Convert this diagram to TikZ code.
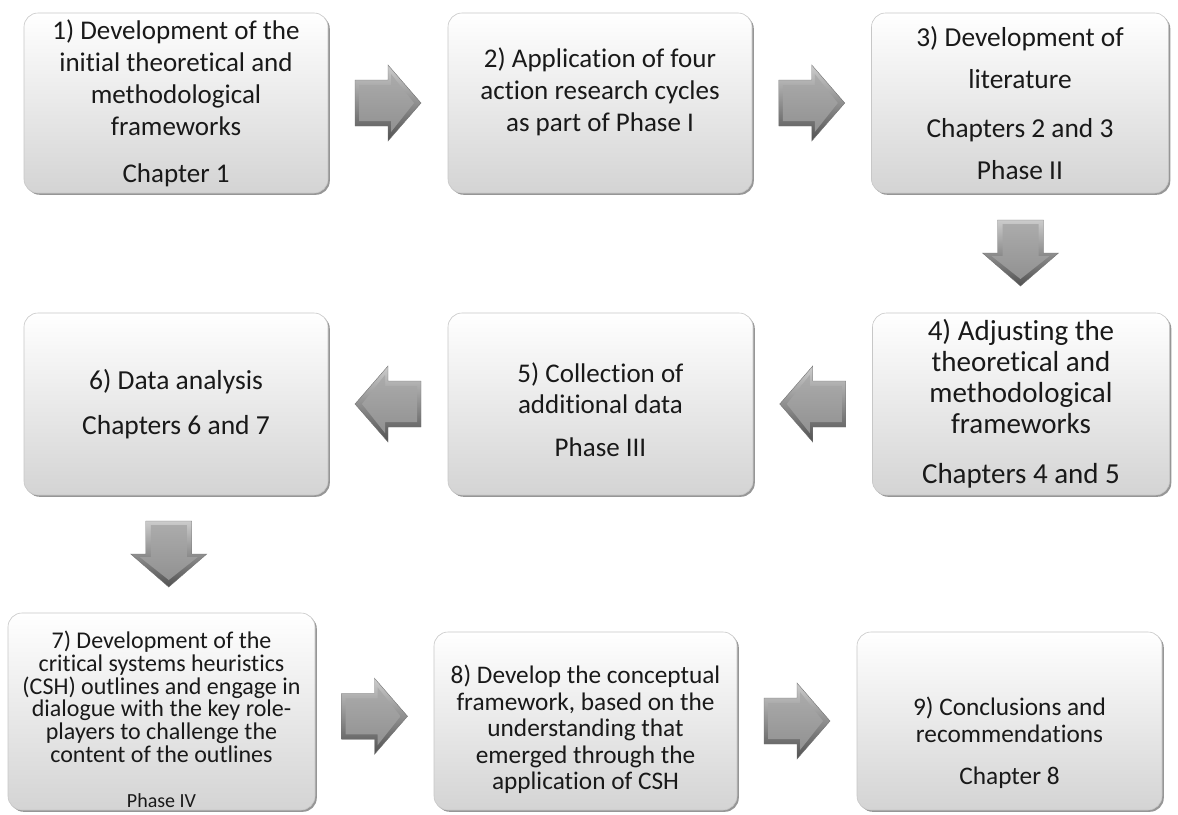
\documentclass[tikz,border=0pt]{standalone}
\usepackage{fontspec}
\setmainfont{Carlito}[Ligatures=NoCommon, RawFeature={-liga;-clig;-calt}]
\usetikzlibrary{calc,shadows}

\tikzset{
  x=1pt, y=-1pt,
  stage/.style={
    draw=black!22, line width=0.6pt, rounded corners=14pt,
    top color=white, middle color=white!96!black, bottom color=black!17,
    drop shadow={shadow xshift=1.8pt, shadow yshift=-1.8pt, fill=black!55, opacity=0.75},
    align=center, inner sep=2pt, text=black!90
  },
  fs/.style 2 args={font=\fontsize{#1}{#2}\selectfont},
  blockarrow/.pic={
    % outer bevelled rim
    \path[top color=black!20, bottom color=black!68, draw=black!55, line width=0.4pt]
      (-33,-23) -- (0,-23) -- (0,-38) -- (33,0) -- (0,38) -- (0,23) -- (-33,23) -- cycle;
    % flat face of the arrow
    \path[top color=black!33, bottom color=black!43]
      (-29,-18) -- (3,-18) -- (3,-29) -- (26,0) -- (3,29) -- (3,18) -- (-29,18) -- cycle;
  },
  toright/.style={},
  toleft/.style={rotate=180},
  todown/.style={rotate=-90, yscale=-1}
}

\begin{document}
\begin{tikzpicture}
\useasboundingbox (0,0) rectangle (1178,814);

% ---- row 1
\node[stage, minimum width=304pt, minimum height=180pt, fs={27}{32}] (b1) at (176,103)
  {1) Development of the\\ initial theoretical and\\ methodological\\ frameworks\\[15pt] Chapter 1};
\node[stage, minimum width=304pt, minimum height=180pt, fs={27}{32}] (b2) at (600,103)
  {2) Application of four\\ action research cycles\\ as part of Phase I\rule[-26pt]{0pt}{26pt}};
\node[stage, minimum width=297pt, minimum height=180pt, fs={27.4}{42}] (b3) at (1020,103)
  {3) Development of\\ literature\\[7pt] Chapters 2 and 3\\ Phase II};

% ---- row 2
\node[stage, minimum width=297pt, minimum height=182pt, fs={29}{31}] (b4) at (1021,404)
  {4) Adjusting the\\ theoretical and\\ methodological\\ frameworks\\[19pt] Chapters 4 and 5};
\node[stage, minimum width=305pt, minimum height=182pt, fs={27}{31}] (b5) at (600.5,404)
  {\rule{0pt}{31pt}5) Collection of\\ additional data\\[12pt] Phase III};
\node[stage, minimum width=304pt, minimum height=182pt, fs={27.5}{32}] (b6) at (176,404)
  {6) Data analysis\\[13pt] Chapters 6 and 7};

% ---- row 3
\node[stage, minimum width=307pt, minimum height=197pt, fs={24}{22.7}] (b7) at (161.5,711.5)
  {\rule{0pt}{33pt}7) Development of the\\ critical systems heuristics\\ (CSH) outlines and engage in\\
   dialogue with the key role-\\ players to challenge the\\ content of the outlines\\[22pt]
   {\fontsize{20}{22}\selectfont Phase IV}};
\node[stage, minimum width=303pt, minimum height=178pt, fs={25.3}{26.5}] (b8) at (585.5,721)
  {\rule{0pt}{36pt}8) Develop the conceptual\\ framework, based on the\\ understanding that\\
   emerged through the\\ application of CSH};
\node[stage, minimum width=305pt, minimum height=178pt, fs={25.3}{27}] (b9) at (1009.5,721)
  {\rule{0pt}{62pt}9) Conclusions and\\ recommendations\\[15pt] Chapter 8};

% ---- block arrows between consecutive stages
\path ($(b1.east)!0.5!(b2.west)$) pic[toright] {blockarrow};
\path ($(b2.east)!0.5!(b3.west)$) pic[toright] {blockarrow};
\path ($(b3.south)!0.5!(b4.north)$) pic[todown] {blockarrow};
\path ($(b4.west)!0.5!(b5.east)$) pic[toleft] {blockarrow};
\path ($(b5.west)!0.5!(b6.east)$) pic[toleft] {blockarrow};
\path ($(b6.south)!0.5!(b7.north)$) pic[todown] {blockarrow};
\path ($(b7.east)!0.5!(b8.west)$) pic[toright] {blockarrow};
\path ($(b8.east)!0.5!(b9.west)$) pic[toright] {blockarrow};
\end{tikzpicture}
\end{document}
